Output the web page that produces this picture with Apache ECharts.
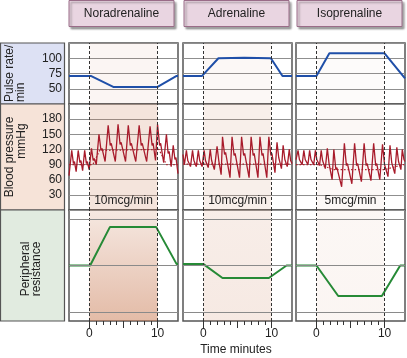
<!DOCTYPE html>
<html><head><meta charset="utf-8">
<script src="https://cdn.jsdelivr.net/npm/echarts@6/dist/echarts.min.js"></script>
<style>html,body{margin:0;padding:0;background:#fff}#c{width:407px;height:358px}</style>
</head><body><div id="c"></div>
<script>
// ---------- data ----------
const drugs = ['Noradrenaline', 'Adrenaline', 'Isoprenaline'];
const doses = ['10mcg/min', '10mcg/min', '5mcg/min'];
const infusionStart = 0;
const infusionEnd = 10;
const timeMin = -3;
const timeMax = 13;
const timeMinorTicks = [0,1,2,3,4,5,6,7,8,9,10];
const timeMajorTicks = [0,5,10];
const timeLabels = [0, 10];
const pulseTicks = [50, 75, 100];
const bpTicks = [30, 60, 90, 120, 150, 180];
const resistanceLevels = [-1, 0, 1];

const pulseNor = [[-3,71],[0.2,71],[3.5,53],[10,53],[12.8,71],[13,71]];
const pulseAdr = [[-3,71],[-0.2,71],[2.2,100],[6,101],[9.9,100],[11.6,71],[13,71]];
const pulseIso = [[-3,71],[0,71],[1.9,108],[10,108],[13,67]];

const bpNor = [[-3,68],[-2.6,118],[-2.35,92],[-2.2,96],[-1.95,76],
  [-1.65,118],[-1.4,94],[-1.25,98],[-1.0,78],
  [-0.7,118],[-0.45,92],[-0.3,96],[-0.05,80],
  [0.3,122],[0.55,98],[0.7,102],[1.0,90],
  [1.4,150],[1.7,118],[1.85,122],[2.3,96],
  [2.75,168],[3.05,128],[3.2,132],[3.8,96],
  [4.2,170],[4.5,130],[4.65,134],[5.3,96],
  [5.7,168],[6.0,128],[6.15,132],[6.8,96],
  [7.3,168],[7.6,128],[7.75,132],[8.4,96],
  [8.9,166],[9.2,128],[9.35,132],[9.7,98],
  [10.0,170],[10.3,128],[10.45,132],[10.9,94],
  [11.3,150],[11.55,112],[11.7,116],[12.0,86],
  [12.3,128],[12.55,100],[12.7,104],[13,72]];
const bpAdr = [[-3,110],[-2.8,90],[-2.5,118],[-2.3,98],[-2.1,100],[-1.9,86],
  [-1.6,118],[-1.4,98],[-1.25,100],[-1.05,86],
  [-0.75,118],[-0.55,98],[-0.4,100],[-0.2,86],
  [0.1,118],[0.3,98],[0.45,100],[0.7,84],
  [1.0,120],[1.2,98],[1.35,100],[1.6,80],
  [2.0,126],[2.25,98],[2.4,100],[2.6,70],
  [2.8,145],[3.1,110],[3.25,114],[3.9,64],
  [4.2,145],[4.5,108],[4.65,112],[5.3,64],
  [5.6,145],[5.9,108],[6.05,112],[6.7,64],
  [7.0,145],[7.3,108],[7.45,112],[8.0,64],
  [8.3,145],[8.6,108],[8.75,112],[9.3,64],
  [9.6,145],[9.9,108],[10.05,112],[10.5,74],
  [10.8,134],[11.05,104],[11.2,106],[11.45,82],
  [11.7,128],[11.95,100],[12.1,102],[12.3,86],
  [12.6,120],[12.8,98],[13,92]];
const bpIso = [[-3,100],[-2.7,118],[-2.5,100],[-2.35,102],[-2.1,90],
  [-1.85,118],[-1.65,100],[-1.5,102],[-1.25,90],
  [-1.0,118],[-0.8,100],[-0.65,102],[-0.4,90],
  [-0.15,118],[0.05,100],[0.2,102],[0.45,88],
  [0.7,118],[0.9,98],[1.05,100],[1.3,82],
  [1.6,122],[1.85,92],[2.0,94],[2.3,60],
  [2.55,120],[2.85,80],[3.0,84],[3.7,46],
  [4.1,132],[4.4,88],[4.55,92],[5.2,52],
  [5.6,132],[5.9,88],[6.05,92],[6.6,56],
  [7.0,132],[7.3,88],[7.45,92],[8.0,58],
  [8.4,132],[8.7,88],[8.85,92],[9.3,60],
  [9.7,130],[10.0,90],[10.15,92],[10.5,66],
  [10.8,128],[11.05,94],[11.2,96],[11.5,72],
  [11.8,124],[12.05,96],[12.2,98],[12.4,80],
  [12.6,120],[12.85,100],[13,96]];

const bpMeanNor = [[-3,90],[0.5,90],[1.5,118],[10.2,120],[11.3,90],[13,90]];
const bpMeanAdr = [[-3,91],[13,91]];
const bpMeanIso = [[-3,90],[0.5,90],[2.5,80],[10,80],[12.8,90],[13,90]];

const resNor = [[-3,0],[0.1,0],[3,0.83],[9.8,0.83],[12.8,0.03],[13,0.03]];
const resAdr = [[-3,0.03],[0,0.03],[2.8,-0.27],[9.6,-0.27],[12.2,0],[13,0]];
const resIso = [[-3,0],[0,0],[3.2,-0.66],[9.6,-0.66],[12.3,0],[13,0]];

const pulseSets = [pulseNor, pulseAdr, pulseIso];
const bpSets = [bpNor, bpAdr, bpIso];
const bpMeanSets = [bpMeanNor, bpMeanAdr, bpMeanIso];
const resSets = [resNor, resAdr, resIso];

// ---------- styling / layout ----------
const FONT = "'Liberation Sans', Arial, sans-serif";
const colLeft = [69, 183, 296];
const colW = 109;
const rows = [{top: 43, h: 61}, {top: 104, h: 106}, {top: 210, h: 111}];
const shade = [
  [0.07, 0.2, [0.17, 0.5]],
  [0.05, 0.12, [0.13, 0.16]],
  [0.03, 0.05, [0.06, 0.07]]
];
const sc = (a) => 'rgba(200,120,80,' + a + ')';

const grids = [], xAxes = [], yAxes = [], series = [];
const vLines = [{xAxis: infusionStart}, {xAxis: infusionEnd}];
const vLineStyle = {color: '#333', width: 1, type: [3, 2]};

for (let c = 0; c < 3; c++) {
  for (let r = 0; r < 3; r++) {
    const g = grids.length;
    grids.push({left: colLeft[c], top: rows[r].top, width: colW, height: rows[r].h,
      show: true, borderColor: '#555', borderWidth: 1.5, backgroundColor: '#fff'});
    const xi = xAxes.length;
    xAxes.push({gridIndex: g, type: 'value', min: timeMin, max: timeMax, show: r === 2, position: 'bottom',
      axisLine: {show: false, onZero: false}, splitLine: {show: false},
      axisTick: {show: true, customValues: timeMinorTicks, length: 4, lineStyle: {color: '#333'}},
      axisLabel: {show: true, customValues: timeLabels, margin: 7, fontSize: 12, color: '#222', fontFamily: FONT}});
    if (r === 2) {
      xAxes.push({gridIndex: g, type: 'value', min: timeMin, max: timeMax, position: 'bottom',
        axisLine: {show: false, onZero: false}, splitLine: {show: false},
        axisTick: {show: true, customValues: timeMajorTicks, length: 7, lineStyle: {color: '#333'}},
        axisLabel: {show: false}});
    }
    let ya;
    if (r === 0) {
      ya = {min: 25, max: 125, interval: 25,
        axisLabel: {show: c === 0, formatter: v => pulseTicks.includes(v) ? String(v) : ''}};
    } else if (r === 1) {
      ya = {min: 0, max: 210, interval: 30,
        axisLabel: {show: c === 0, formatter: v => bpTicks.includes(v) ? String(v) : ''}};
    } else {
      ya = {min: -1.2, max: 1.2, splitLine: {show: false}, axisLabel: {show: false}};
    }
    yAxes.push(Object.assign({gridIndex: g, type: 'value', axisLine: {show: false, onZero: false}, axisTick: {show: false},
      splitLine: {show: true, lineStyle: {color: '#8f8f8f', width: 1}}}, ya,
      {axisLabel: Object.assign({margin: 7, fontSize: 12, color: '#222', fontFamily: FONT}, ya.axisLabel)}));
    const yi = yAxes.length - 1;

    const areaColor = r === 2
      ? {type: 'linear', x: 0, y: 0, x2: 0, y2: 1, colorStops: [{offset: 0, color: sc(shade[c][2][0])}, {offset: 1, color: sc(shade[c][2][1])}]}
      : sc(shade[c][r]);
    const markArea = {silent: true, itemStyle: {color: areaColor},
      label: r === 1 ? {show: true, position: 'insideBottom', distance: 3, formatter: doses[c], fontSize: 12, color: '#222', fontFamily: FONT} : {show: false},
      data: [[{xAxis: infusionStart}, {xAxis: infusionEnd}]]};
    const mlData = vLines.map(d => Object.assign({lineStyle: vLineStyle}, d));
    if (r === 2) resistanceLevels.forEach(v => mlData.push({yAxis: v, lineStyle: {color: '#8a8a8a', width: 1, type: 'solid'}}));
    const markLine = {silent: true, symbol: 'none', label: {show: false}, data: mlData};

    if (r === 0) {
      series.push({type: 'line', xAxisIndex: xi, yAxisIndex: yi, data: pulseSets[c], showSymbol: false,
        lineStyle: {color: '#1f4fa8', width: 2}, markArea, markLine, z: 3});
    } else if (r === 1) {
      series.push({type: 'line', xAxisIndex: xi, yAxisIndex: yi, data: bpMeanSets[c], showSymbol: false,
        lineStyle: {color: '#b0202e', width: 1.2, type: [1.5, 2]}, markArea, markLine, z: 3});
      series.push({type: 'line', xAxisIndex: xi, yAxisIndex: yi, data: bpSets[c], showSymbol: false,
        lineStyle: {color: '#a81b2b', width: 1.3}, z: 4});
    } else {
      series.push({type: 'line', xAxisIndex: xi, yAxisIndex: yi, data: resSets[c], showSymbol: false,
        lineStyle: {color: '#268a36', width: 2}, markArea, markLine, z: 3});
    }
  }
}

// ---------- decorations ----------
const headerX = [69, 184, 297];
const graphic = [];
drugs.forEach((d, i) => {
  graphic.push({type: 'rect', shape: {x: headerX[i], y: 0.5, width: 105, height: 26},
    style: {fill: '#e9d5e1', stroke: '#9a6c88', lineWidth: 1, shadowBlur: 2, shadowOffsetX: 2, shadowOffsetY: 2, shadowColor: 'rgba(0,0,0,0.35)'}, z: 1});
  graphic.push({type: 'text', x: headerX[i] + 52.5, y: 14, style: {text: d, fontSize: 12, fontFamily: FONT, fill: '#222', textAlign: 'center', textVerticalAlign: 'middle'}, z: 2});
});
const sideBoxes = [
  {y: 43, h: 61, fill: '#dde1f4'},
  {y: 104, h: 106, fill: '#f6e3d8'},
  {y: 210, h: 111, fill: '#e1ebe0'}
];
sideBoxes.forEach(b => graphic.push({type: 'rect', shape: {x: 0.5, y: b.y, width: 64, height: b.h},
  style: {fill: b.fill, stroke: '#555', lineWidth: 1.2}, z: 0}));
graphic.push({type: 'text', x: 4, y: 102, rotation: Math.PI / 2,
  style: {text: 'Pulse rate/\nmin', fontSize: 12, lineHeight: 11, fontFamily: FONT, fill: '#222', textAlign: 'left', textVerticalAlign: 'top'}, z: 2});
graphic.push({type: 'text', x: 10, y: 157, rotation: Math.PI / 2,
  style: {text: 'Blood pressure', fontSize: 12, fontFamily: FONT, fill: '#222', textAlign: 'center', textVerticalAlign: 'middle'}, z: 2});
graphic.push({type: 'text', x: 21.5, y: 141, rotation: Math.PI / 2,
  style: {text: 'mmHg', fontSize: 12, fontFamily: FONT, fill: '#222', textAlign: 'center', textVerticalAlign: 'middle'}, z: 2});
graphic.push({type: 'text', x: 31.5, y: 269, rotation: Math.PI / 2,
  style: {text: 'Peripheral\nresistance', fontSize: 12, lineHeight: 11, fontFamily: FONT, fill: '#222', textAlign: 'center', textVerticalAlign: 'middle'}, z: 2});
graphic.push({type: 'text', x: 236, y: 350, style: {text: 'Time minutes', fontSize: 12, fontFamily: FONT, fill: '#222', textAlign: 'center', textVerticalAlign: 'middle'}, z: 2});

const chart = echarts.init(document.getElementById('c'), null, {renderer: 'canvas'});
chart.setOption({animation: false, backgroundColor: '#fff', grid: grids, xAxis: xAxes, yAxis: yAxes, series, graphic,
  textStyle: {fontFamily: FONT}});
</script></body></html>
